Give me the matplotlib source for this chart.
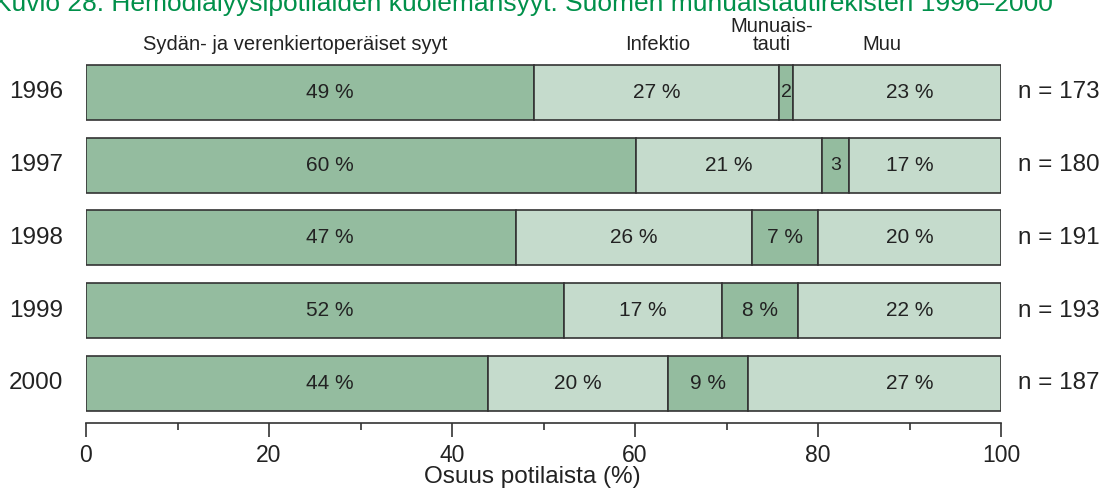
import matplotlib
matplotlib.use("Agg")
import matplotlib.pyplot as plt
import numpy as np

plt.rcParams['font.family'] = ['Liberation Sans', 'DejaVu Sans']

years = ["1996", "1997", "1998", "1999", "2000"]
n_counts = [173, 180, 191, 193, 187]
categories = ["Sydän- ja verenkiertoperäiset syyt", "Infektio", "Munuais-\ntauti", "Muu"]
cardio = [49.0, 60.1, 47.0, 52.2, 43.9]
infection = [26.7, 20.3, 25.8, 17.3, 19.7]
kidney = [1.6, 3.0, 7.2, 8.3, 8.8]
other = [22.7, 16.6, 20.0, 22.2, 27.6]
cardio_lbl = ["49 %", "60 %", "47 %", "52 %", "44 %"]
infection_lbl = ["27 %", "21 %", "26 %", "17 %", "20 %"]
kidney_lbl = ["2", "3", "7 %", "8 %", "9 %"]
other_lbl = ["23 %", "17 %", "20 %", "22 %", "27 %"]
header_x = [22.9, 62.5, 74.9, 87.0]
xticks = [0, 20, 40, 60, 80, 100]

dark = "#94bc9f"
light = "#c5dbcc"
edge = "#333333"
txt = "#222222"

fig = plt.figure(figsize=(11.04, 4.88), dpi=100)
ax = fig.add_axes([86/1104, 1-423/488, (1001-86)/1104, (423-56.1)/488])

series = [cardio, infection, kidney, other]
labels = [cardio_lbl, infection_lbl, kidney_lbl, other_lbl]
colors = [dark, light, dark, light]
# fixed label columns for first and last segment (as in the original layout)
fixed_label_x = [26.6, None, None, 90.0]
y = np.arange(len(years))
left = np.zeros(len(years))
for vals, lbls, col, fx in zip(series, labels, colors, fixed_label_x):
    vals = np.array(vals)
    ax.barh(y, vals, left=left, height=0.756, color=col, edgecolor=edge, linewidth=1.2)
    for i in range(len(years)):
        fs = 15 if "%" in lbls[i] else 14
        xpos = fx if fx is not None else left[i] + vals[i]/2
        ax.text(xpos, y[i], lbls[i], ha='center', va='center',
                fontsize=fs, color=txt)
    left = left + vals

ax.set_ylim(4.543, -0.5)
ax.set_xlim(0, 100)
ax.set_yticks([])
ax.set_xticks(xticks)
ax.set_xticks([10, 30, 50, 70, 90], minor=True)
ax.tick_params(axis='x', which='major', length=10, width=1.2, colors=edge, labelsize=16.5,
               labelcolor=txt, pad=5)
ax.tick_params(axis='x', which='minor', length=5, width=1.2, colors=edge)
for s in ['top', 'right', 'left']:
    ax.spines[s].set_visible(False)
ax.spines['bottom'].set_color(edge)
ax.spines['bottom'].set_linewidth(1.2)
ax.set_xlabel("Osuus potilaista (%)", fontsize=17.5, color=txt, labelpad=0)
ax.xaxis.set_label_coords(0.488, -0.118)

for i, yr in enumerate(years):
    ax.text(-2.5, y[i], yr, ha='right', va='center', fontsize=17.5, color=txt)
    ax.text(1.9 + 100, y[i], f"n = {n_counts[i]}", ha='left', va='center', fontsize=17.5, color=txt)

for cx, cat in zip(header_x, categories):
    ax.text(cx, -0.53, cat, ha='center', va='bottom', fontsize=14.5, color=txt,
            linespacing=0.95, clip_on=False)

fig.text(-0.005, 1-11/488, "Kuvio 28. Hemodialyysipotilaiden kuolemansyyt. Suomen munuaistautirekisteri 1996\u20132000",
         ha='left', va='baseline', fontsize=19, color="#00904a")

fig.savefig("out.png", dpi=100)
